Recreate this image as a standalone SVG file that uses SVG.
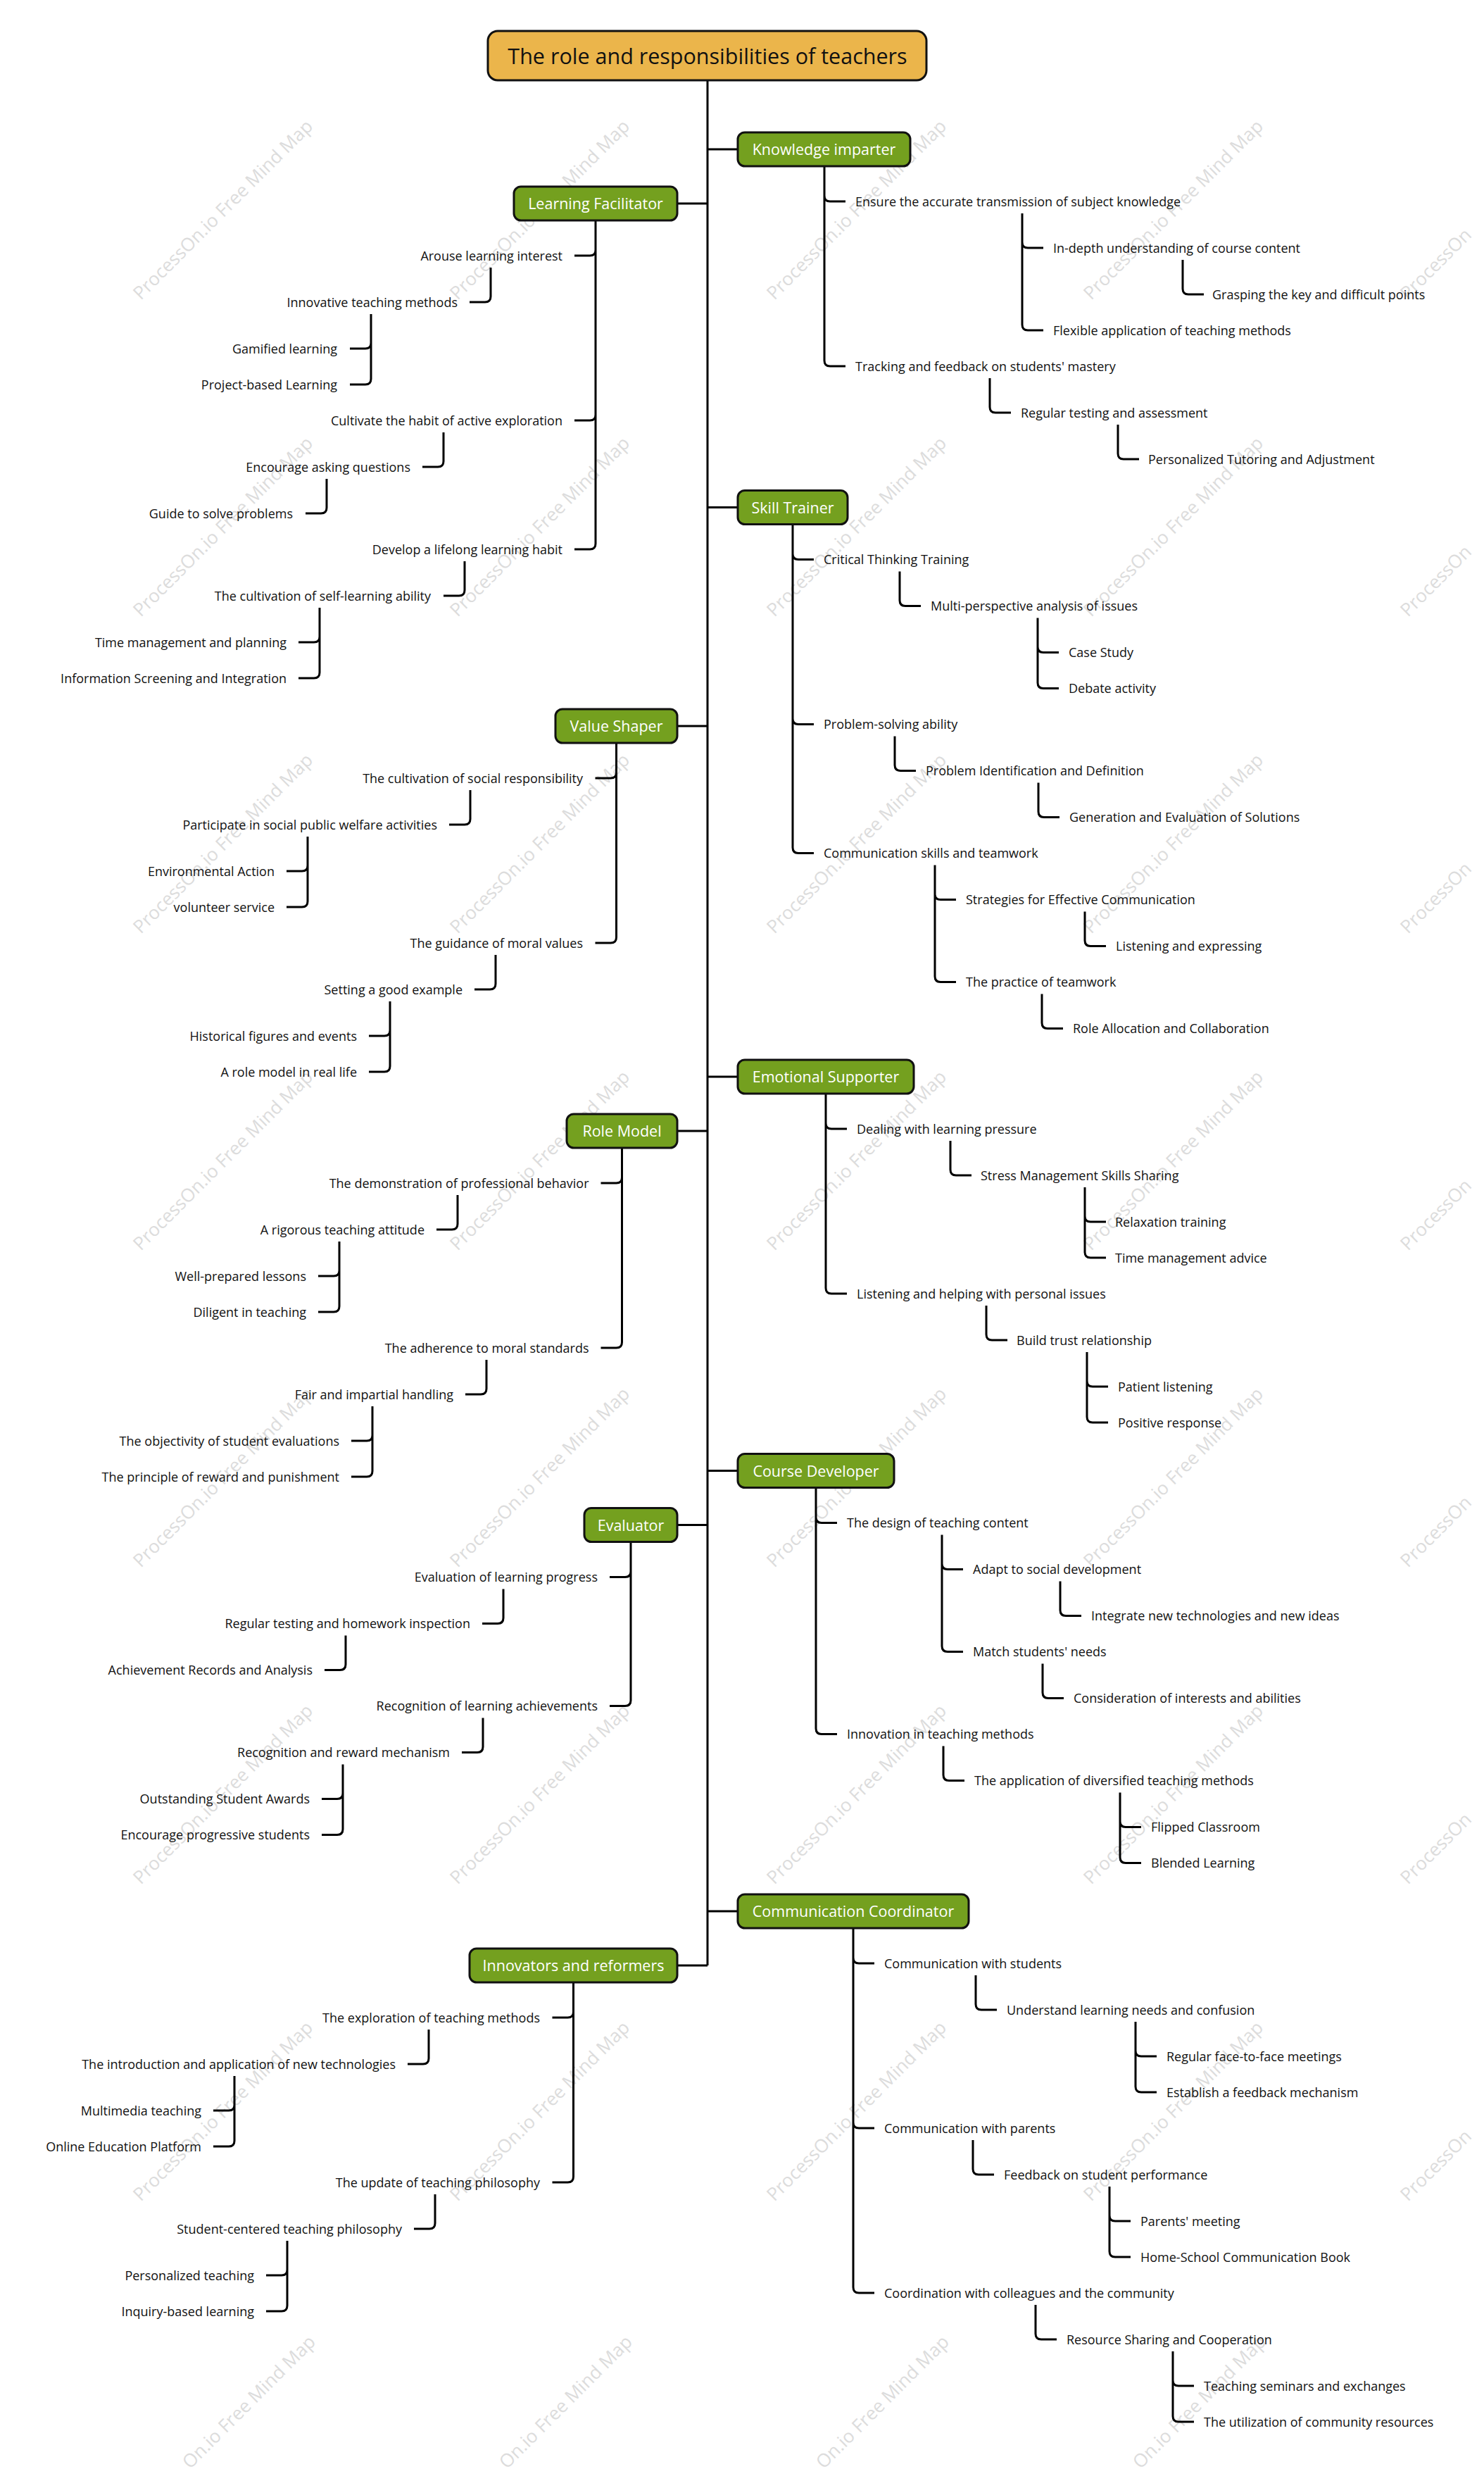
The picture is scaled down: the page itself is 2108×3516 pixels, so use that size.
<svg xmlns="http://www.w3.org/2000/svg" width="2108" height="3516" viewBox="0 0 2108 3516">
<style>
text{font-family:"Open Sans","Noto Sans","Liberation Sans",sans-serif}
.r{font-size:18px;fill:#111;text-anchor:start}
.l{font-size:18px;fill:#111;text-anchor:end}
.m{font-size:21.5px;fill:#fff;text-anchor:middle}
.box{fill:#74a01f;stroke:#111;stroke-width:3}
.root{fill:#ebb54b;stroke:#111;stroke-width:3}
.c{fill:none;stroke:#000;stroke-width:3;stroke-linejoin:round}
.wm{font-size:26px;fill:#dcdcdc}
</style>
<rect width="2108" height="3516" fill="#fff"/>
<g id="watermark">
<text class="wm" x="200" y="427" transform="rotate(-45 200 427)">ProcessOn.io Free Mind Map</text>
<text class="wm" x="650" y="427" transform="rotate(-45 650 427)">ProcessOn.io Free Mind Map</text>
<text class="wm" x="1100" y="427" transform="rotate(-45 1100 427)">ProcessOn.io Free Mind Map</text>
<text class="wm" x="1550" y="427" transform="rotate(-45 1550 427)">ProcessOn.io Free Mind Map</text>
<text class="wm" x="2000" y="427" transform="rotate(-45 2000 427)">ProcessOn</text>
<text class="wm" x="200" y="877" transform="rotate(-45 200 877)">ProcessOn.io Free Mind Map</text>
<text class="wm" x="650" y="877" transform="rotate(-45 650 877)">ProcessOn.io Free Mind Map</text>
<text class="wm" x="1100" y="877" transform="rotate(-45 1100 877)">ProcessOn.io Free Mind Map</text>
<text class="wm" x="1550" y="877" transform="rotate(-45 1550 877)">ProcessOn.io Free Mind Map</text>
<text class="wm" x="2000" y="877" transform="rotate(-45 2000 877)">ProcessOn</text>
<text class="wm" x="200" y="1327" transform="rotate(-45 200 1327)">ProcessOn.io Free Mind Map</text>
<text class="wm" x="650" y="1327" transform="rotate(-45 650 1327)">ProcessOn.io Free Mind Map</text>
<text class="wm" x="1100" y="1327" transform="rotate(-45 1100 1327)">ProcessOn.io Free Mind Map</text>
<text class="wm" x="1550" y="1327" transform="rotate(-45 1550 1327)">ProcessOn.io Free Mind Map</text>
<text class="wm" x="2000" y="1327" transform="rotate(-45 2000 1327)">ProcessOn</text>
<text class="wm" x="200" y="1777" transform="rotate(-45 200 1777)">ProcessOn.io Free Mind Map</text>
<text class="wm" x="650" y="1777" transform="rotate(-45 650 1777)">ProcessOn.io Free Mind Map</text>
<text class="wm" x="1100" y="1777" transform="rotate(-45 1100 1777)">ProcessOn.io Free Mind Map</text>
<text class="wm" x="1550" y="1777" transform="rotate(-45 1550 1777)">ProcessOn.io Free Mind Map</text>
<text class="wm" x="2000" y="1777" transform="rotate(-45 2000 1777)">ProcessOn</text>
<text class="wm" x="200" y="2227" transform="rotate(-45 200 2227)">ProcessOn.io Free Mind Map</text>
<text class="wm" x="650" y="2227" transform="rotate(-45 650 2227)">ProcessOn.io Free Mind Map</text>
<text class="wm" x="1100" y="2227" transform="rotate(-45 1100 2227)">ProcessOn.io Free Mind Map</text>
<text class="wm" x="1550" y="2227" transform="rotate(-45 1550 2227)">ProcessOn.io Free Mind Map</text>
<text class="wm" x="2000" y="2227" transform="rotate(-45 2000 2227)">ProcessOn</text>
<text class="wm" x="200" y="2677" transform="rotate(-45 200 2677)">ProcessOn.io Free Mind Map</text>
<text class="wm" x="650" y="2677" transform="rotate(-45 650 2677)">ProcessOn.io Free Mind Map</text>
<text class="wm" x="1100" y="2677" transform="rotate(-45 1100 2677)">ProcessOn.io Free Mind Map</text>
<text class="wm" x="1550" y="2677" transform="rotate(-45 1550 2677)">ProcessOn.io Free Mind Map</text>
<text class="wm" x="2000" y="2677" transform="rotate(-45 2000 2677)">ProcessOn</text>
<text class="wm" x="200" y="3127" transform="rotate(-45 200 3127)">ProcessOn.io Free Mind Map</text>
<text class="wm" x="650" y="3127" transform="rotate(-45 650 3127)">ProcessOn.io Free Mind Map</text>
<text class="wm" x="1100" y="3127" transform="rotate(-45 1100 3127)">ProcessOn.io Free Mind Map</text>
<text class="wm" x="1550" y="3127" transform="rotate(-45 1550 3127)">ProcessOn.io Free Mind Map</text>
<text class="wm" x="2000" y="3127" transform="rotate(-45 2000 3127)">ProcessOn</text>
<text class="wm" x="270" y="3507" transform="rotate(-45 270 3507)">On.io Free Mind Map</text>
<text class="wm" x="720" y="3507" transform="rotate(-45 720 3507)">On.io Free Mind Map</text>
<text class="wm" x="1170" y="3507" transform="rotate(-45 1170 3507)">On.io Free Mind Map</text>
<text class="wm" x="1620" y="3507" transform="rotate(-45 1620 3507)">On.io Free Mind Map</text>
</g>
<g id="connectors">
<path class="c" d="M1005 114 V2791"/>
<path class="c" d="M1005 212 H1048 M1005 720.5 H1048 M1005 1529 H1048 M1005 2088.5 H1048 M1005 2714 H1048 M962 289 H1005 M962 1031 H1005 M962 1606 H1005 M962 2165.5 H1005 M962 2791 H1005"/>
<path class="c" d="M1171 236 V278 Q1171 286 1179 286 H1201 M1171 278 V512 Q1171 520 1179 520 H1201"/>
<path class="c" d="M1452 303 V344 Q1452 352 1460 352 H1482 M1452 344 V461 Q1452 469 1460 469 H1482"/>
<path class="c" d="M1680 369 V410 Q1680 418 1688 418 H1710"/>
<path class="c" d="M1406 537 V578 Q1406 586 1414 586 H1436"/>
<path class="c" d="M1588 603 V644 Q1588 652 1596 652 H1618"/>
<path class="c" d="M1126 744.5 V786.5 Q1126 794.5 1134 794.5 H1156 M1126 786.5 V1020.5 Q1126 1028.5 1134 1028.5 H1156 M1126 1020.5 V1203.5 Q1126 1211.5 1134 1211.5 H1156"/>
<path class="c" d="M1278 811.5 V852.5 Q1278 860.5 1286 860.5 H1308"/>
<path class="c" d="M1474 877.5 V918.5 Q1474 926.5 1482 926.5 H1504 M1474 918.5 V969.5 Q1474 977.5 1482 977.5 H1504"/>
<path class="c" d="M1271 1045.5 V1086.5 Q1271 1094.5 1279 1094.5 H1301"/>
<path class="c" d="M1475 1111.5 V1152.5 Q1475 1160.5 1483 1160.5 H1505"/>
<path class="c" d="M1328 1228.5 V1269.5 Q1328 1277.5 1336 1277.5 H1358 M1328 1269.5 V1386.5 Q1328 1394.5 1336 1394.5 H1358"/>
<path class="c" d="M1541 1294.5 V1335.5 Q1541 1343.5 1549 1343.5 H1571"/>
<path class="c" d="M1480 1411.5 V1452.5 Q1480 1460.5 1488 1460.5 H1510"/>
<path class="c" d="M1173 1553 V1595 Q1173 1603 1181 1603 H1203 M1173 1595 V1829 Q1173 1837 1181 1837 H1203"/>
<path class="c" d="M1350 1620 V1661 Q1350 1669 1358 1669 H1380"/>
<path class="c" d="M1541 1686 V1727 Q1541 1735 1549 1735 H1571 M1541 1727 V1778 Q1541 1786 1549 1786 H1571"/>
<path class="c" d="M1401 1854 V1895 Q1401 1903 1409 1903 H1431"/>
<path class="c" d="M1544 1920 V1961 Q1544 1969 1552 1969 H1574 M1544 1961 V2012 Q1544 2020 1552 2020 H1574"/>
<path class="c" d="M1159 2112.5 V2154.5 Q1159 2162.5 1167 2162.5 H1189 M1159 2154.5 V2454.5 Q1159 2462.5 1167 2462.5 H1189"/>
<path class="c" d="M1338 2179.5 V2220.5 Q1338 2228.5 1346 2228.5 H1368 M1338 2220.5 V2337.5 Q1338 2345.5 1346 2345.5 H1368"/>
<path class="c" d="M1506 2245.5 V2286.5 Q1506 2294.5 1514 2294.5 H1536"/>
<path class="c" d="M1481 2362.5 V2403.5 Q1481 2411.5 1489 2411.5 H1511"/>
<path class="c" d="M1340 2479.5 V2520.5 Q1340 2528.5 1348 2528.5 H1370"/>
<path class="c" d="M1591 2545.5 V2586.5 Q1591 2594.5 1599 2594.5 H1621 M1591 2586.5 V2637.5 Q1591 2645.5 1599 2645.5 H1621"/>
<path class="c" d="M1212 2738 V2780 Q1212 2788 1220 2788 H1242 M1212 2780 V3014 Q1212 3022 1220 3022 H1242 M1212 3014 V3248 Q1212 3256 1220 3256 H1242"/>
<path class="c" d="M1386 2805 V2846 Q1386 2854 1394 2854 H1416"/>
<path class="c" d="M1613 2871 V2912 Q1613 2920 1621 2920 H1643 M1613 2912 V2963 Q1613 2971 1621 2971 H1643"/>
<path class="c" d="M1382 3039 V3080 Q1382 3088 1390 3088 H1412"/>
<path class="c" d="M1576 3105 V3146 Q1576 3154 1584 3154 H1606 M1576 3146 V3197 Q1576 3205 1584 3205 H1606"/>
<path class="c" d="M1471 3273 V3314 Q1471 3322 1479 3322 H1501"/>
<path class="c" d="M1666 3339 V3380 Q1666 3388 1674 3388 H1696 M1666 3380 V3431 Q1666 3439 1674 3439 H1696"/>
<path class="c" d="M846 313 V355 Q846 363 838 363 H816 M846 355 V589 Q846 597 838 597 H816 M846 589 V772 Q846 780 838 780 H816"/>
<path class="c" d="M697 380 V421 Q697 429 689 429 H667"/>
<path class="c" d="M527 446 V487 Q527 495 519 495 H497 M527 487 V538 Q527 546 519 546 H497"/>
<path class="c" d="M630 614 V655 Q630 663 622 663 H600"/>
<path class="c" d="M464 680 V721 Q464 729 456 729 H434"/>
<path class="c" d="M660 797 V838 Q660 846 652 846 H630"/>
<path class="c" d="M454 863 V904 Q454 912 446 912 H424 M454 904 V955 Q454 963 446 963 H424"/>
<path class="c" d="M875.5 1055 V1097 Q875.5 1105 867.5 1105 H845.5 M875.5 1097 V1331 Q875.5 1339 867.5 1339 H845.5"/>
<path class="c" d="M668 1122 V1163 Q668 1171 660 1171 H638"/>
<path class="c" d="M437 1188 V1229 Q437 1237 429 1237 H407 M437 1229 V1280 Q437 1288 429 1288 H407"/>
<path class="c" d="M704 1356 V1397 Q704 1405 696 1405 H674"/>
<path class="c" d="M554 1422 V1463 Q554 1471 546 1471 H524 M554 1463 V1514 Q554 1522 546 1522 H524"/>
<path class="c" d="M883.5 1630 V1672 Q883.5 1680 875.5 1680 H853.5 M883.5 1672 V1906 Q883.5 1914 875.5 1914 H853.5"/>
<path class="c" d="M650 1697 V1738 Q650 1746 642 1746 H620"/>
<path class="c" d="M482 1763 V1804 Q482 1812 474 1812 H452 M482 1804 V1855 Q482 1863 474 1863 H452"/>
<path class="c" d="M691 1931 V1972 Q691 1980 683 1980 H661"/>
<path class="c" d="M529 1997 V2038 Q529 2046 521 2046 H499 M529 2038 V2089 Q529 2097 521 2097 H499"/>
<path class="c" d="M896 2189.5 V2231.5 Q896 2239.5 888 2239.5 H866 M896 2231.5 V2414.5 Q896 2422.5 888 2422.5 H866"/>
<path class="c" d="M715 2256.5 V2297.5 Q715 2305.5 707 2305.5 H685"/>
<path class="c" d="M491 2322.5 V2363.5 Q491 2371.5 483 2371.5 H461"/>
<path class="c" d="M686 2439.5 V2480.5 Q686 2488.5 678 2488.5 H656"/>
<path class="c" d="M487 2505.5 V2546.5 Q487 2554.5 479 2554.5 H457 M487 2546.5 V2597.5 Q487 2605.5 479 2605.5 H457"/>
<path class="c" d="M814.5 2815 V2857 Q814.5 2865 806.5 2865 H784.5 M814.5 2857 V3091 Q814.5 3099 806.5 3099 H784.5"/>
<path class="c" d="M609 2882 V2923 Q609 2931 601 2931 H579"/>
<path class="c" d="M333 2948 V2989 Q333 2997 325 2997 H303 M333 2989 V3040 Q333 3048 325 3048 H303"/>
<path class="c" d="M618 3116 V3157 Q618 3165 610 3165 H588"/>
<path class="c" d="M408 3182 V3223 Q408 3231 400 3231 H378 M408 3223 V3274 Q408 3282 400 3282 H378"/>
</g>
<g id="root"><rect class="root" x="693" y="44" width="623" height="70" rx="14"/><text x="1005" y="91" style="font-size:30.5px;fill:#111;text-anchor:middle">The role and responsibilities of teachers</text></g>
<g id="knowledge-imparter"><rect class="box" x="1048" y="188" width="245" height="48" rx="10"/><text class="m" x="1170.5" y="220">Knowledge imparter</text>
<text class="r" x="1215" y="292.5">Ensure the accurate transmission of subject knowledge</text>
<text class="r" x="1496" y="358.5">In-depth understanding of course content</text>
<text class="r" x="1722" y="424.5">Grasping the key and difficult points</text>
<text class="r" x="1496" y="475.5">Flexible application of teaching methods</text>
<text class="r" x="1215" y="526.5">Tracking and feedback on students' mastery</text>
<text class="r" x="1450" y="592.5">Regular testing and assessment</text>
<text class="r" x="1631" y="658.5">Personalized Tutoring and Adjustment</text></g>
<g id="skill-trainer"><rect class="box" x="1048" y="696.5" width="156" height="48" rx="10"/><text class="m" x="1126" y="728.5">Skill Trainer</text>
<text class="r" x="1170" y="801">Critical Thinking Training</text>
<text class="r" x="1322" y="867">Multi-perspective analysis of issues</text>
<text class="r" x="1518" y="933">Case Study</text>
<text class="r" x="1518" y="984">Debate activity</text>
<text class="r" x="1170" y="1035">Problem-solving ability</text>
<text class="r" x="1315" y="1101">Problem Identification and Definition</text>
<text class="r" x="1519" y="1167">Generation and Evaluation of Solutions</text>
<text class="r" x="1170" y="1218">Communication skills and teamwork</text>
<text class="r" x="1372" y="1284">Strategies for Effective Communication</text>
<text class="r" x="1585" y="1350">Listening and expressing</text>
<text class="r" x="1372" y="1401">The practice of teamwork</text>
<text class="r" x="1524" y="1467">Role Allocation and Collaboration</text></g>
<g id="emotional-supporter"><rect class="box" x="1048" y="1505" width="250" height="48" rx="10"/><text class="m" x="1173" y="1537">Emotional Supporter</text>
<text class="r" x="1217" y="1609.5">Dealing with learning pressure</text>
<text class="r" x="1393" y="1675.5">Stress Management Skills Sharing</text>
<text class="r" x="1584" y="1741.5">Relaxation training</text>
<text class="r" x="1584" y="1792.5">Time management advice</text>
<text class="r" x="1217" y="1843.5">Listening and helping with personal issues</text>
<text class="r" x="1444" y="1909.5">Build trust relationship</text>
<text class="r" x="1588" y="1975.5">Patient listening</text>
<text class="r" x="1588" y="2026.5">Positive response</text></g>
<g id="course-developer"><rect class="box" x="1048" y="2064.5" width="222" height="48" rx="10"/><text class="m" x="1159" y="2096.5">Course Developer</text>
<text class="r" x="1203" y="2169">The design of teaching content</text>
<text class="r" x="1382" y="2235">Adapt to social development</text>
<text class="r" x="1550" y="2301">Integrate new technologies and new ideas</text>
<text class="r" x="1382" y="2352">Match students' needs</text>
<text class="r" x="1525" y="2418">Consideration of interests and abilities</text>
<text class="r" x="1203" y="2469">Innovation in teaching methods</text>
<text class="r" x="1384" y="2535">The application of diversified teaching methods</text>
<text class="r" x="1635" y="2601">Flipped Classroom</text>
<text class="r" x="1635" y="2652">Blended Learning</text></g>
<g id="communication-coordinator"><rect class="box" x="1048" y="2690" width="328" height="48" rx="10"/><text class="m" x="1212" y="2722">Communication Coordinator</text>
<text class="r" x="1256" y="2794.5">Communication with students</text>
<text class="r" x="1430" y="2860.5">Understand learning needs and confusion</text>
<text class="r" x="1657" y="2926.5">Regular face-to-face meetings</text>
<text class="r" x="1657" y="2977.5">Establish a feedback mechanism</text>
<text class="r" x="1256" y="3028.5">Communication with parents</text>
<text class="r" x="1426" y="3094.5">Feedback on student performance</text>
<text class="r" x="1620" y="3160.5">Parents' meeting</text>
<text class="r" x="1620" y="3211.5">Home-School Communication Book</text>
<text class="r" x="1256" y="3262.5">Coordination with colleagues and the community</text>
<text class="r" x="1515" y="3328.5">Resource Sharing and Cooperation</text>
<text class="r" x="1710" y="3394.5">Teaching seminars and exchanges</text>
<text class="r" x="1710" y="3445.5">The utilization of community resources</text></g>
<g id="learning-facilitator"><rect class="box" x="730" y="265" width="232" height="48" rx="10"/><text class="m" x="846" y="297">Learning Facilitator</text>
<text class="l" x="799" y="369.5">Arouse learning interest</text>
<text class="l" x="650" y="435.5">Innovative teaching methods</text>
<text class="l" x="479" y="501.5">Gamified learning</text>
<text class="l" x="479" y="552.5">Project-based Learning</text>
<text class="l" x="799" y="603.5">Cultivate the habit of active exploration</text>
<text class="l" x="583" y="669.5">Encourage asking questions</text>
<text class="l" x="416" y="735.5">Guide to solve problems</text>
<text class="l" x="799" y="786.5">Develop a lifelong learning habit</text>
<text class="l" x="612" y="852.5">The cultivation of self-learning ability</text>
<text class="l" x="407" y="918.5">Time management and planning</text>
<text class="l" x="407" y="969.5">Information Screening and Integration</text></g>
<g id="value-shaper"><rect class="box" x="789" y="1007" width="173" height="48" rx="10"/><text class="m" x="875.5" y="1039">Value Shaper</text>
<text class="l" x="828" y="1111.5">The cultivation of social responsibility</text>
<text class="l" x="621" y="1177.5">Participate in social public welfare activities</text>
<text class="l" x="390" y="1243.5">Environmental Action</text>
<text class="l" x="390" y="1294.5">volunteer service</text>
<text class="l" x="828" y="1345.5">The guidance of moral values</text>
<text class="l" x="657" y="1411.5">Setting a good example</text>
<text class="l" x="507" y="1477.5">Historical figures and events</text>
<text class="l" x="507" y="1528.5">A role model in real life</text></g>
<g id="role-model"><rect class="box" x="805" y="1582" width="157" height="48" rx="10"/><text class="m" x="883.5" y="1614">Role Model</text>
<text class="l" x="836.5" y="1686.5">The demonstration of professional behavior</text>
<text class="l" x="603" y="1752.5">A rigorous teaching attitude</text>
<text class="l" x="435" y="1818.5">Well-prepared lessons</text>
<text class="l" x="435" y="1869.5">Diligent in teaching</text>
<text class="l" x="836.5" y="1920.5">The adherence to moral standards</text>
<text class="l" x="644" y="1986.5">Fair and impartial handling</text>
<text class="l" x="482" y="2052.5">The objectivity of student evaluations</text>
<text class="l" x="482" y="2103.5">The principle of reward and punishment</text></g>
<g id="evaluator"><rect class="box" x="830" y="2141.5" width="132" height="48" rx="10"/><text class="m" x="896" y="2173.5">Evaluator</text>
<text class="l" x="849" y="2246">Evaluation of learning progress</text>
<text class="l" x="668" y="2312">Regular testing and homework inspection</text>
<text class="l" x="444" y="2378">Achievement Records and Analysis</text>
<text class="l" x="849" y="2429">Recognition of learning achievements</text>
<text class="l" x="639" y="2495">Recognition and reward mechanism</text>
<text class="l" x="440" y="2561">Outstanding Student Awards</text>
<text class="l" x="440" y="2612">Encourage progressive students</text></g>
<g id="innovators-and-reformers"><rect class="box" x="667" y="2767" width="295" height="48" rx="10"/><text class="m" x="814.5" y="2799">Innovators and reformers</text>
<text class="l" x="767" y="2871.5">The exploration of teaching methods</text>
<text class="l" x="562" y="2937.5">The introduction and application of new technologies</text>
<text class="l" x="286" y="3003.5">Multimedia teaching</text>
<text class="l" x="286" y="3054.5">Online Education Platform</text>
<text class="l" x="767" y="3105.5">The update of teaching philosophy</text>
<text class="l" x="571" y="3171.5">Student-centered teaching philosophy</text>
<text class="l" x="361" y="3237.5">Personalized teaching</text>
<text class="l" x="361" y="3288.5">Inquiry-based learning</text></g>
</svg>
